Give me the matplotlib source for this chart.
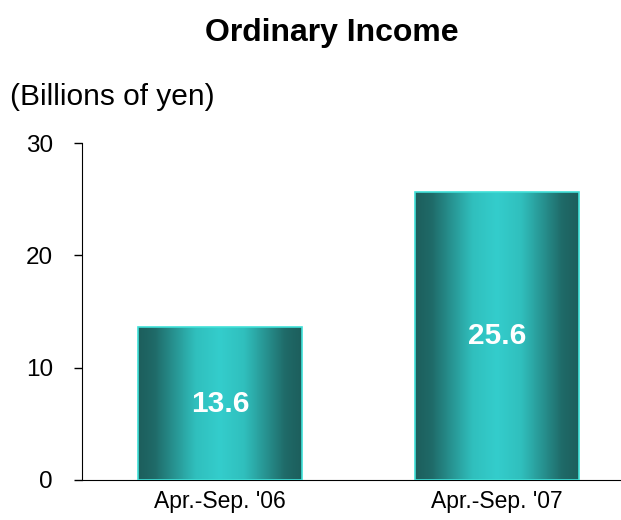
import numpy as np
import matplotlib.pyplot as plt
from matplotlib.colors import LinearSegmentedColormap

plt.rcParams['font.family'] = ['Liberation Sans', 'DejaVu Sans']

periods = ["Apr.-Sep. '06", "Apr.-Sep. '07"]
income = [13.6, 25.6]

fig = plt.figure(figsize=(6.21, 5.2), dpi=100)
ax = fig.add_axes([0.132, 0.077, 0.868, 0.648])

# horizontal gradient for the bars: dark edges, bright middle
cmap = LinearSegmentedColormap.from_list('teal', [(0, '#1d5e5c'), (0.1, '#1f6a68'), (0.35, '#30bfbd'),
                                                  (0.5, '#34cdcc'), (0.65, '#30bfbd'), (0.9, '#1f6a68'),
                                                  (1, '#1d5e5c')])
grad = np.linspace(0, 1, 256).reshape(1, -1)

x = np.arange(len(periods))
w = 0.592
bars = ax.bar(x, income, width=w, color='none', edgecolor='#40e0d8', linewidth=1.2, zorder=3)
for b, v in zip(bars, income):
    x0 = b.get_x()
    im = ax.imshow(grad, cmap=cmap, aspect='auto', extent=[x0, x0 + w, 0, v], zorder=2)
    im.set_clip_path(b)
    ax.text(b.get_x() + w / 2, v / 2, f"{v:.1f}", ha='center', va='center',
            color='white', fontsize=21.5, fontweight='bold', zorder=4)

ax.set_xlim(-0.498, 1.448)
ax.set_ylim(0, 30)
ax.set_yticks([0, 10, 20, 30])
ax.tick_params(axis='y', labelsize=17.5, length=6, width=1, pad=15)
ax.set_xticks(x)
ax.set_xticklabels(periods, fontsize=16.5)
ax.tick_params(axis='x', length=0, pad=7)
ax.spines['top'].set_visible(False)
ax.spines['right'].set_visible(False)

fig.text(0.534, 0.936, "Ordinary Income", ha='center', va='center', fontsize=23, fontweight='bold')
fig.text(0.016, 0.813, "(Billions of yen)", ha='left', va='center', fontsize=21.5)

fig.savefig('out.png', dpi=100)
